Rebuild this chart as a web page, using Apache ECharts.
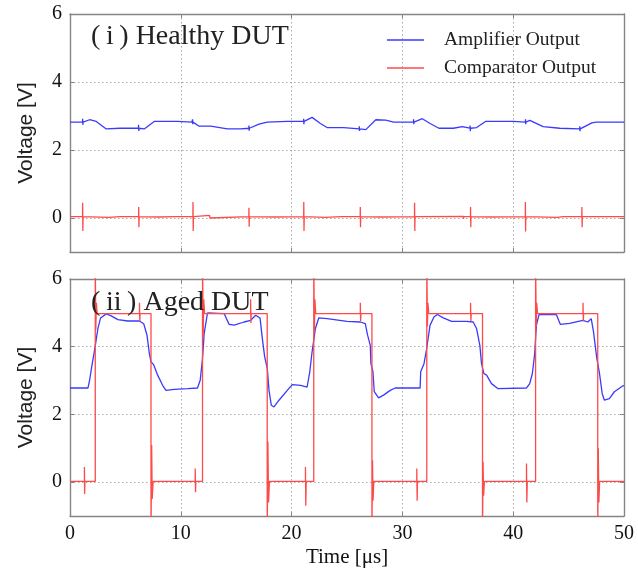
<!DOCTYPE html>
<html>
<head>
<meta charset="utf-8">
<script src="https://cdn.jsdelivr.net/npm/echarts@6/dist/echarts.min.js"></script>
<style>
html,body{margin:0;padding:0;background:#fff;}
#chart{width:638px;height:571px;}
</style>
</head>
<body>
<div id="chart"></div>
<script>
// ---- Data (time in µs, voltage in V) ----
const xTicks = [0, 10, 20, 30, 40, 50];
const yTicks = [0, 2, 4, 6];
const panelTitles = ['(\u2009i\u2009) Healthy DUT', '(\u2009ii\u2009) Aged DUT'];
const seriesNames = ['Amplifier Output', 'Comparator Output'];

const healthyAmp = [
  [0,2.82],[1.13,2.82],[1.14,2.92],[1.16,2.74],[1.18,2.82],[1.77,2.89],[2.37,2.84],[3.27,2.62],[4.5,2.64],
  [6.18,2.64],[6.19,2.74],[6.21,2.56],[6.23,2.64],[6.7,2.62],[7.6,2.84],[9.7,2.84],[11.0,2.82],
  [11.06,2.9],[11.08,2.76],[11.1,2.82],[11.66,2.70],[12.7,2.70],[14.2,2.62],[15.4,2.62],
  [16.14,2.64],[16.15,2.72],[16.17,2.57],[16.19,2.64],[17.06,2.76],[17.8,2.82],[19.6,2.84],
  [21.08,2.84],[21.09,2.92],[21.11,2.76],[21.13,2.84],[21.85,2.96],[22.6,2.78],[23.2,2.66],[24.7,2.66],
  [26.1,2.62],[26.11,2.7],[26.13,2.56],[26.15,2.62],[26.7,2.60],[27.6,2.89],[28.5,2.88],[29.2,2.82],
  [31.0,2.82],[31.01,2.9],[31.03,2.76],[31.05,2.82],[31.8,2.92],[32.5,2.78],[33.3,2.64],[34.6,2.64],[35.4,2.69],
  [36.1,2.64],[36.11,2.72],[36.13,2.55],[36.15,2.64],[36.7,2.66],[37.5,2.84],[40.0,2.84],
  [41.1,2.82],[41.11,2.9],[41.13,2.76],[41.15,2.82],[41.5,2.87],[42.7,2.69],[44.2,2.64],
  [46.0,2.62],[46.01,2.7],[46.03,2.55],[46.05,2.62],[47.1,2.80],[47.5,2.82],[50,2.82]
];

const healthyComp = [
  [0,0.04],[1.13,0.04],[1.14,0.45],[1.16,-0.38],[1.18,0.04],[3.5,0.02],[4.5,0.04],
  [6.19,0.04],[6.2,0.32],[6.22,-0.27],[6.24,0.04],[8.0,0.03],[9.5,0.04],
  [11.09,0.04],[11.1,0.47],[11.12,-0.38],[11.14,0.04],[12.6,0.08],[12.62,0.0],[12.64,0.04],
  [16.14,0.04],[16.15,0.3],[16.17,-0.26],[16.19,0.04],[18.5,0.03],
  [21.09,0.04],[21.1,0.47],[21.12,-0.38],[21.14,0.04],[23.0,0.02],[24.5,0.04],
  [26.19,0.04],[26.2,0.32],[26.22,-0.27],[26.24,0.04],[28.0,0.03],
  [31.09,0.04],[31.1,0.45],[31.12,-0.38],[31.14,0.04],[35.5,0.05],[35.52,-0.02],[35.55,0.04],
  [36.14,0.04],[36.15,0.32],[36.17,-0.27],[36.19,0.04],[38.0,0.03],
  [41.09,0.04],[41.1,0.47],[41.12,-0.4],[41.14,0.04],[44.0,0.02],[44.5,0.04],
  [46.19,0.04],[46.2,0.32],[46.22,-0.27],[46.24,0.04],[50,0.04]
];

const agedAmp = [
  [0,2.78],[1.62,2.78],[1.77,3.01],[1.98,3.45],[2.22,3.90],[2.52,4.54],[2.76,4.85],[3.27,4.97],[3.72,4.91],
  [4.32,4.80],[5.22,4.76],[6.27,4.76],[6.65,4.68],[6.95,4.34],[7.16,3.80],[7.31,3.55],[7.55,3.47],[7.91,3.16],
  [8.36,2.86],[8.66,2.71],[9.41,2.74],[10.61,2.76],[11.51,2.78],[11.75,3.01],[11.96,3.65],[12.11,4.39],
  [12.41,5.0],[13.91,4.98],[14.36,4.66],[14.81,4.64],[15.71,4.73],[16.31,4.78],[16.76,4.93],[17.15,4.85],
  [17.36,4.24],[17.57,3.70],[17.81,3.35],[17.96,2.71],[18.17,2.27],[18.41,2.22],[18.86,2.42],[19.61,2.71],
  [20.06,2.88],[20.81,2.86],[21.40,2.81],[21.64,3.26],[21.85,3.85],[22.15,4.54],[22.45,4.85],[23.20,4.83],
  [25.0,4.75],[26.2,4.73],[26.65,4.68],[26.86,4.34],[27.1,4.04],[27.16,3.50],[27.34,3.26],[27.46,2.67],
  [27.85,2.49],[28.3,2.57],[28.9,2.71],[29.35,2.78],[31.6,2.78],[31.65,3.26],[31.95,3.50],[32.19,3.94],
  [32.49,4.63],[32.85,4.88],[33.15,4.95],[33.69,4.85],[34.44,4.75],[35.79,4.75],[36.39,4.73],[36.69,4.54],
  [36.99,4.04],[37.14,3.50],[37.35,3.21],[37.6,3.16],[38.04,2.91],[38.64,2.76],[41.19,2.78],[41.49,2.91],
  [41.73,3.21],[41.94,3.80],[42.09,4.63],[42.33,4.95],[43.89,4.95],[44.25,4.66],[45.09,4.69],[46.29,4.78],
  [46.74,4.73],[47.04,4.83],[47.25,4.44],[47.55,3.65],[47.79,3.21],[48.03,2.62],[48.23,2.42],[48.68,2.47],
  [49.13,2.67],[49.88,2.84],[50,2.85]
];

const agedComp = [
  [0,0.02],[1.3,0.02],[1.3,0.45],[1.32,-0.35],[1.35,0.02],[2.28,0.02],[2.28,6.6],[2.33,4.5],[2.38,5.3],[2.45,4.98],
  [6.27,4.98],[6.27,5.3],[6.3,4.75],[6.33,4.98],[7.31,4.98],[7.31,-1.6],[7.37,1.1],[7.42,-0.5],[7.5,0.02],
  [11.3,0.02],[11.3,0.4],[11.33,-0.3],[11.36,0.02],[11.96,0.02],[11.96,6.6],[12.02,4.3],[12.07,5.4],[12.15,4.98],
  [16.3,4.98],[16.3,5.4],[16.33,4.7],[16.36,4.98],[17.8,4.98],[17.8,-1.6],[17.86,1.2],[17.92,-0.6],[18.0,0.02],
  [21.25,0.02],[21.25,0.45],[21.28,-0.7],[21.32,0.02],[22.0,0.02],[22.0,6.6],[22.06,4.4],[22.1,5.4],[22.18,4.98],
  [26.2,4.98],[26.2,5.3],[26.23,4.75],[26.26,4.98],[27.25,4.98],[27.25,-1.6],[27.3,0.65],[27.35,-0.55],[27.42,0.02],
  [31.3,0.02],[31.3,0.4],[31.33,-0.55],[31.36,0.02],[32.2,0.02],[32.2,6.6],[32.26,4.6],[32.3,5.3],[32.38,4.98],
  [36.15,4.98],[36.15,5.3],[36.18,4.75],[36.21,4.98],[37.23,4.98],[37.23,-1.6],[37.28,0.6],[37.33,-0.4],[37.4,0.02],
  [41.2,0.02],[41.2,0.55],[41.23,-0.6],[41.27,0.02],[42.02,0.02],[42.02,6.6],[42.08,4.6],[42.12,5.3],[42.2,4.98],
  [46.3,4.98],[46.3,5.3],[46.33,4.75],[46.36,4.98],[47.63,4.98],[47.63,-1.6],[47.68,1.0],[47.73,-0.6],[47.8,0.02],
  [50,0.02]
];

// ---- Styling / layout ----
const SERIF = 'Liberation Serif';
const SANS = 'Liberation Sans';
const AXIS_COLOR = '#858585';
const BLUE = '#3a3aff';
const RED = '#ff4a4a';

const grids = [
  {left: 70, right: 14, top: 14, height: 238},
  {left: 70, right: 14, top: 279, height: 237}
];

function xAxes(gi, showLabels) {
  return [
    {
      type: 'value', gridIndex: gi, min: xTicks[0], max: xTicks[xTicks.length-1], interval: 10,
      position: 'bottom',
      axisLine: {show: true, onZero: false, lineStyle: {color: AXIS_COLOR, width: 1.4}},
      axisTick: {show: true, inside: true, length: 4, lineStyle: {color: AXIS_COLOR}},
      splitLine: {show: true, lineStyle: {color: '#aaa', type: [1.5, 2.5], width: 1}},
      axisLabel: {show: showLabels, color: '#111', fontFamily: SERIF, fontSize: 20, margin: 8},
      name: showLabels ? 'Time [\u03bcs]' : '',
      nameLocation: 'middle', nameGap: 31,
      nameTextStyle: {fontFamily: SERIF, fontSize: 21, color: '#111'}
    },
    {
      type: 'value', gridIndex: gi, min: xTicks[0], max: xTicks[xTicks.length-1], interval: 10,
      position: 'top',
      axisLine: {show: true, onZero: false, lineStyle: {color: AXIS_COLOR, width: 1.4}},
      axisTick: {show: true, inside: true, length: 4, lineStyle: {color: AXIS_COLOR}},
      splitLine: {show: false}, axisLabel: {show: false}
    }
  ];
}
function yAxes(gi) {
  return [
    {
      type: 'value', gridIndex: gi, min: -1, max: 6, position: 'left',
      axisLine: {show: true, onZero: false, lineStyle: {color: AXIS_COLOR, width: 1.4}},
      axisTick: {show: true, inside: true, length: 4, lineStyle: {color: AXIS_COLOR}, customValues: yTicks},
      splitLine: {show: true, lineStyle: {color: '#aaa', type: [1.5, 2.5], width: 1}},
      axisLabel: {show: true, color: '#111', fontFamily: SERIF, fontSize: 20, margin: 8, customValues: yTicks},
      name: 'Voltage [V]', nameLocation: 'middle', nameRotate: 90, nameGap: 33,
      nameTextStyle: {fontFamily: SANS, fontSize: 21, color: '#222'}
    },
    {
      type: 'value', gridIndex: gi, min: -1, max: 6, position: 'right',
      axisLine: {show: true, onZero: false, lineStyle: {color: AXIS_COLOR, width: 1.4}},
      axisTick: {show: true, inside: true, length: 4, lineStyle: {color: AXIS_COLOR}, customValues: yTicks},
      splitLine: {show: false}, axisLabel: {show: false}
    }
  ];
}

function lineSeries(name, data, gi, color, z) {
  return {
    name: name, type: 'line', data: data,
    xAxisIndex: gi * 2, yAxisIndex: gi * 2,
    showSymbol: false, symbol: 'none', clip: true, animation: false,
    lineStyle: {color: color, width: 1.3}, itemStyle: {color: color}, z: z
  };
}

const chart = echarts.init(document.getElementById('chart'), null, {renderer: 'canvas'});
chart.setOption({
  backgroundColor: '#ffffff',
  animation: false,
  title: [
    {text: panelTitles[0], left: 86, top: 18, textStyle: {fontFamily: SERIF, fontSize: 28, fontWeight: 'normal', color: '#222'}},
    {text: panelTitles[1], left: 86, top: 284, textStyle: {fontFamily: SERIF, fontSize: 28, fontWeight: 'normal', color: '#222'}}
  ],
  legend: {
    orient: 'vertical', left: 382, top: 25, itemWidth: 37, itemHeight: 1.5, itemGap: 8,
    data: [{name: seriesNames[0], icon: 'rect'}, {name: seriesNames[1], icon: 'rect'}],
    textStyle: {fontFamily: SERIF, fontSize: 19.5, color: '#222', lineHeight: 20, padding: [0, 0, 0, 15]},
    selectedMode: false
  },
  grid: grids,
  xAxis: [...xAxes(0, false), ...xAxes(1, true)],
  yAxis: [...yAxes(0), ...yAxes(1)],
  series: [
    lineSeries(seriesNames[0], healthyAmp, 0, BLUE, 2),
    lineSeries(seriesNames[1], healthyComp, 0, RED, 3),
    lineSeries(seriesNames[0], agedAmp, 1, BLUE, 2),
    lineSeries(seriesNames[1], agedComp, 1, RED, 3)
  ]
});
</script>
</body>
</html>
